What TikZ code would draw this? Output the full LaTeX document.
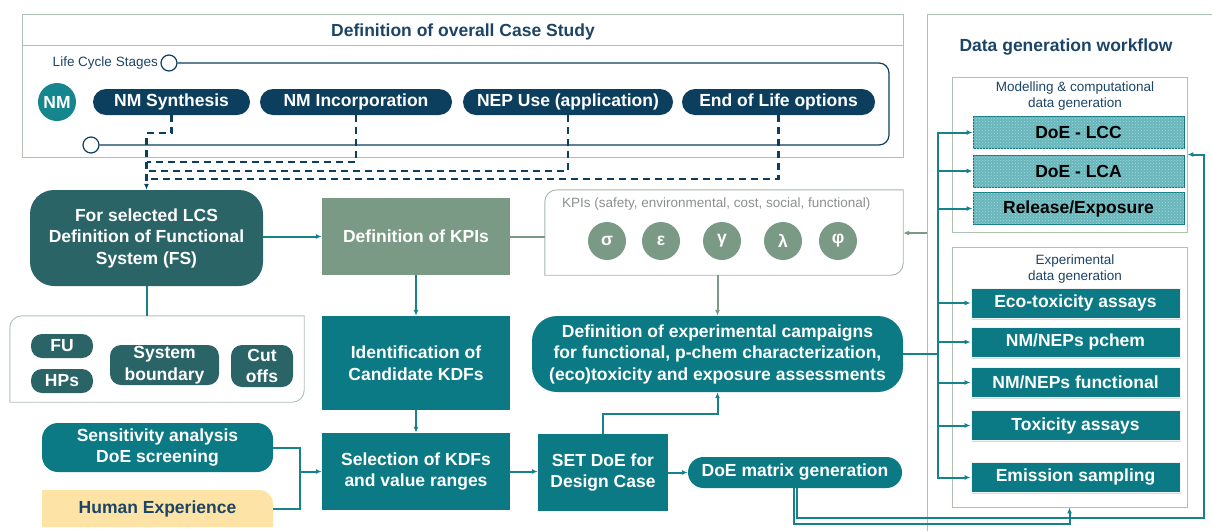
\documentclass[tikz,border=0pt]{standalone}
\usepackage{fontspec}
\setmainfont{Liberation Sans}
\usetikzlibrary{arrows.meta,patterns,shadows}
\definecolor{navy}{HTML}{0C3E5E}
\definecolor{navytxt}{HTML}{1B4466}
\definecolor{tealc}{HTML}{0B7A84}
\definecolor{dteal}{HTML}{2A6467}
\definecolor{sage}{HTML}{7B9A85}
\definecolor{lsage}{HTML}{AEC2B3}
\definecolor{sand}{HTML}{FDE3A6}
\definecolor{lteal}{HTML}{66B6BB}
\definecolor{nmteal}{HTML}{15868E}
\definecolor{lineteal}{HTML}{16838C}
\definecolor{kgrey}{HTML}{8B908D}
\tikzstyle{txtb}=[font=\fontsize{17.5}{21.5}\selectfont\bfseries, align=center, inner sep=0pt]
\tikzstyle{small}=[font=\fontsize{13.5}{16}\selectfont, align=center, inner sep=0pt]
\tikzstyle{ttl}=[txtb, text=navytxt]
\tikzstyle{frame}=[draw=lsage, line width=0.9pt]
\tikzstyle{ring}=[circle, draw=navy, fill=white, line width=1.2pt, minimum size=16pt, inner sep=0pt]
\tikzstyle{pill}=[txtb, rounded corners=13pt, fill=navy, text=white, minimum height=26pt]
\tikzstyle{fsbox}=[txtb, fill=dteal, text=white]
\tikzstyle{tealbox}=[txtb, fill=tealc, text=white]
\tikzstyle{sagebox}=[txtb, fill=sage, text=white]
\tikzstyle{kpic}=[txtb, circle, fill=sage, text=white, minimum size=38pt]
\tikzstyle{modbox}=[txtb, fill=lteal, draw=tealc, line width=0.8pt, text=black,
  postaction={pattern=crosshatch dots, pattern color=white!45!lteal},
  minimum width=211pt, minimum height=32pt]
\tikzstyle{expbox}=[txtb, fill=tealc, draw=white!90!gray, line width=0.8pt, text=white,
  drop shadow={shadow xshift=1pt, shadow yshift=-1.5pt, opacity=0.3},
  minimum width=209pt, minimum height=30pt]
\tikzstyle{edge}=[draw=lineteal, line width=2pt]
\tikzstyle{arr}=[edge, ->]
\tikzstyle{garr}=[draw=sage, line width=2pt, ->]
\tikzstyle{gline}=[draw=sage, line width=2pt]
\tikzstyle{dashln}=[draw=navy, line width=2.2pt, dash pattern=on 7pt off 5pt]

\begin{document}
\begin{tikzpicture}[x=1pt, y=-1pt, >={Latex[length=6pt,width=5pt]}]
    \useasboundingbox (0,0) rectangle (1212,531);

    % case study frame
    \draw[frame] (22,14) rectangle (903,157);
    \draw[frame] (22,45) -- (903,45);
    \node[ttl] (cstitle) at (463,32) {Definition of overall Case Study};

    % life cycle stages
    \node[small, text=navytxt, anchor=east] (lcslbl) at (158,63) {Life Cycle Stages};
    \node[ring] (lcsa) at (169,63) {};
    \node[ring] (lcsb) at (91,145) {};
    \draw[navy, line width=1.2pt, rounded corners=10pt] (lcsa.east) -- (889,63) -- (889,145) -- (lcsb.east);
    \node[txtb, circle, fill=nmteal, text=white, minimum size=38pt] (nm) at (57,102) {NM};
    \foreach \x/\w/\name/\val in {{171.5/157/syn/NM Synthesis}, {356/192/inc/NM Incorporation},
    {568/210/use/{NEP Use (application)}}, {778.5/193/eol/End of Life options}}
        \node[pill, minimum width=\w pt] (\name) at (\x,102) {\val};

    % functional system
    \node[fsbox, minimum width=233pt, minimum height=96pt, rounded corners=24pt] (fs) at (146.5,238)
        {For selected LCS\\Definition of Functional\\System (FS)};
    \draw[dashln, ->] (syn.south) -- ++(0,18) -| (fs.north);
    \draw[dashln] (inc.south) |- ([yshift=28pt]fs.north);
    \draw[dashln] (use.south) |- ([yshift=19pt]fs.north);
    \draw[dashln] (eol.south) |- ([yshift=11pt]fs.north);
    \node[minimum width=294pt, minimum height=86pt, inner sep=0pt] (fsub) at (157,359) {};
    \draw[frame] (fsub.south west) -- ([yshift=-12pt]fsub.north west) to[out=90,in=180]
        ([xshift=12pt]fsub.north west) -- (fsub.north east) -- ([yshift=12pt]fsub.south east)
        to[out=-90,in=0] ([xshift=-12pt]fsub.south east) -- cycle;
    \foreach \pos/\w/\h/\name/\val in {{(62,346)/62/24/fu/FU}, {(62,381)/62/24/hps/HPs},
    {(164.5,365)/109/40/sysb/{System\\boundary}}, {(262,366)/62/42/cut/{Cut\\offs}}}
        \node[fsbox, minimum width=\w pt, minimum height=\h pt, rounded corners=11pt] (\name) at \pos {\val};

    % KPIs
    \node[sagebox, minimum width=188pt, minimum height=77pt] (defkpi) at (416,236.5) {Definition of KPIs};
    \node[minimum width=358pt, minimum height=85pt, inner sep=0pt] (kpis) at (724,232.5) {};
    \draw[frame, draw=lsage!80!gray] (kpis.south west) -- ([yshift=-12pt]kpis.north west) to[out=90,in=180]
        ([xshift=12pt]kpis.north west) -- (kpis.north east) -- ([yshift=12pt]kpis.south east)
        to[out=-90,in=0] ([xshift=-12pt]kpis.south east) -- cycle;
    \node[small, text=kgrey, anchor=west] (kpilbl) at (562,204) {KPIs (safety, environmental, cost, social, functional)};
    \foreach \x/\name/\val in {607/ksig/σ, 661/keps/ε, 722/kgam/γ, 783/klam/λ, 838/kphi/φ}
        \node[kpic] (\name) at (\x,241) {\val};

    % KDF chain
    \node[tealbox, minimum width=188pt, minimum height=94pt] (ident) at (416,363) {Identification of\\Candidate KDFs};
    \node[tealbox, minimum width=188pt, minimum height=77pt] (sel) at (416,471.5) {Selection of KDFs\\and value ranges};
    \node[tealbox, minimum width=130pt, minimum height=77pt] (set) at (603,472.5) {SET DoE for\\Design Case};
    \node[tealbox, minimum width=214pt, minimum height=31pt, rounded corners=15.5pt] (doem) at (795,472.5) {DoE matrix generation};
    \node[tealbox, minimum width=371pt, minimum height=76pt, rounded corners=25pt] (camp) at (717.5,354)
        {Definition of experimental campaigns\\for functional, p-chem characterization,\\(eco)toxicity and exposure assessments};
    \node[tealbox, minimum width=231pt, minimum height=49pt, rounded corners=16pt] (sens) at (157.5,447.5)
        {Sensitivity analysis\\DoE screening};
    \path[fill=sand] (42,527) -- (42,490) -- (259,490) to[out=0,in=90] (273,504) -- (273,527) -- cycle;
    \node[txtb, text=navytxt, minimum width=231pt, minimum height=37pt] (hum) at (157.5,508.5) {Human Experience};

    % data generation workflow
    \draw[frame] (927,531) -- (927,14) -- (1212,14);
    \node[ttl] (dgtitle) at (1066,47) {Data generation workflow};
    \node[frame, minimum width=235pt, minimum height=155pt, inner sep=0pt] (mod) at (1069.5,154.5) {};
    \node[small, text=navytxt] (modlbl) at (1075,96) {Modelling \& computational\\data generation};
    \foreach \y/\name/\val in {132.5/lcc/DoE - LCC, 171/lca/DoE - LCA, 208.5/rel/{Release/Exposure}}
        \node[modbox] (\name) at (1078.5,\y) {\val};
    \node[frame, minimum width=235pt, minimum height=260pt, inner sep=0pt] (exp) at (1069.5,377) {};
    \node[small, text=navytxt] (explbl) at (1075,269) {Experimental\\data generation};
    \foreach \y/\name/\val in {303/eco/Eco-toxicity assays, 342/pch/{NM/NEPs pchem},
    382.5/fun/{NM/NEPs functional}, 425.5/tox/Toxicity assays, 477.5/emi/Emission sampling}
        \node[expbox] (\name) at (1075.5,\y) {\val};

    % connectors
    \draw[arr] (fs.east |- defkpi.west) -- (defkpi.west);
    \draw[edge] (fs.south) -- (fs.south |- fsub.north);
    \draw[gline] (defkpi.east) -- (defkpi.east -| kpis.west);
    \draw[arr] (defkpi.south) -- (ident.north);
    \draw[arr] (ident.south) -- (sel.north);
    \draw[garr] (kpis.south -| camp.north) -- (camp.north);
    \coordinate (mrg) at (300,471.5);
    \draw[edge] (sens.east) -| (mrg);
    \draw[edge] (hum.east) -| (mrg);
    \draw[arr] (mrg) -- (sel.west);
    \draw[arr] (sel.east) -- (sel.east -| set.west);
    \draw[arr] (set.east) -- (set.east -| doem.west);
    \draw[arr] (set.north) -- ++(0,-20) -| (camp.south);
    \coordinate (bus) at (938,354);
    \draw[edge] (camp.east) -- (bus);
    \foreach \b in {lcc,lca,rel,eco,pch,fun,tox,emi}
        \draw[arr] (bus) |- (\b.west);
    \coordinate (wfin) at (927,233);
    \draw[garr] (wfin) -- (wfin -| kpis.east);
    \draw[arr] ([xshift=-1.5pt]doem.south) |- ([yshift=-17pt]exp.south) -- (exp.south);
    \coordinate (rbend) at (1204,518);
    \draw[arr] ([xshift=1.5pt]doem.south) |- (rbend) |- (mod.east);
\end{tikzpicture}
\end{document}
